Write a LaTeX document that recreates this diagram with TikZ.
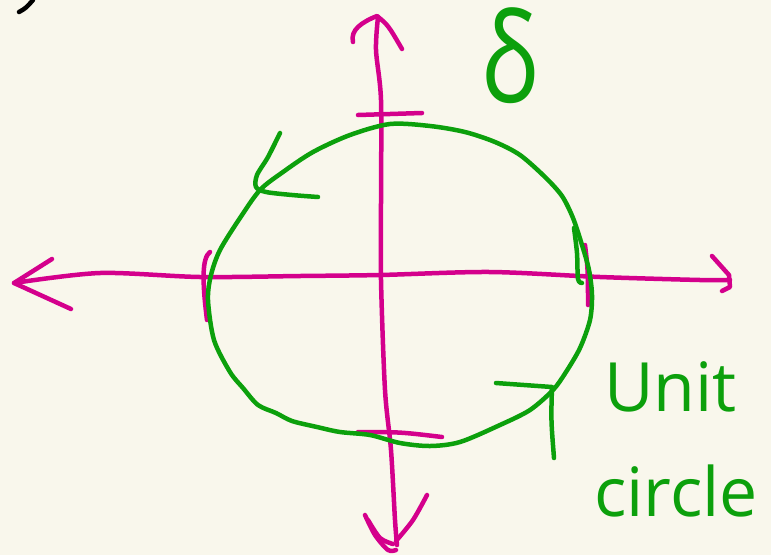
\documentclass[tikz,border=0pt]{standalone}
\usepackage{fontspec}
\newfontfamily\handfont{Open Sans}
\definecolor{paper}{RGB}{249,247,236}
\definecolor{ink}{RGB}{212,0,140}
\definecolor{leaf}{RGB}{12,160,12}

\begin{document}
\begin{tikzpicture}[x=1pt, y=-1pt,
  pen/.style={line width=4.5pt,line cap=round,line join=round},
  axisline/.style={pen,draw=ink},
  ring/.style={pen,draw=leaf},
  hand/.style={text=leaf,inner sep=0pt,font=\handfont\fontsize{68}{80}\selectfont}]
\fill[paper] (0,0) rectangle (771,555);
\useasboundingbox (0,0) rectangle (771,555);
% stray mark
\draw[pen,black] (19,12) .. controls (26,8) .. (33,0);
% horizontal axis
\draw[axisline] plot[smooth] coordinates {(14,283) (100,273) (200,277) (300,276) (380,275) (490,272) (600,277) (700,280) (730,280)};
\draw[axisline] (52,259) -- (14,283) -- (71,309);
\draw[axisline] (712,256) -- (729,275) -- (730,287) -- (722,291);
% vertical axis
\draw[axisline] plot[smooth] coordinates {(378,17) (376,50) (381,100) (381,200) (381,280) (385,390) (391,450) (395,520) (397,545)};
\draw[axisline] (353,42) .. controls (350,30) and (362,22) .. (377,16) .. controls (388,25) .. (402,49);
\draw[axisline] plot[smooth] coordinates {(365,515) (375,535) (388,550) (396,550)};
\draw[axisline] plot[smooth] coordinates {(368,520) (380,538) (393,544)};
\draw[axisline] plot[smooth] coordinates {(396,541) (413,520) (427,495)};
% ticks
\draw[axisline] (358,115) -- (422,113);
\draw[axisline] (358,432) .. controls (400,432) .. (442,437);
\draw[axisline] (210,252) .. controls (202,258) and (202,280) .. (207,320);
\draw[axisline] (585,245) .. controls (588,270) .. (588,305);
% circle
\draw[ring] plot[smooth cycle] coordinates {(390,124) (430,126) (465,132) (495,142) (520,155) (545,177) (562,196) (573,218) (582,245) (589,270) (592,295) (590,320) (580,348) (566,372) (553,390) (530,410) (500,425) (460,442) (430,446) (400,443) (370,435) (340,432) (317,427) (292,421) (276,413) (258,405) (243,388) (230,372) (214,340) (208,300) (211,275) (220,250) (240,218) (260,190) (283,172) (313,152) (350,135)};
\draw[ring] plot[smooth] coordinates {(574,228) (577,253) (578,279) (582,283)};
% angle marks
\draw[ring] plot[smooth] coordinates {(280,133) (268,157) (257,175) (256,187) (266,192) (292,195) (318,197)};
\draw[ring] (496,383) -- (552,387) .. controls (551,420) .. (554,458);
% labels
\node[hand,font=\handfont\fontsize{125}{125}\selectfont,xscale=0.78] (delta) at (510,56) {δ};
\node[hand,anchor=base west] (unit) at (604,411) {Unit};
\node[hand,anchor=base west] (circ) at (594,516) {circle};
\end{tikzpicture}
\end{document}
